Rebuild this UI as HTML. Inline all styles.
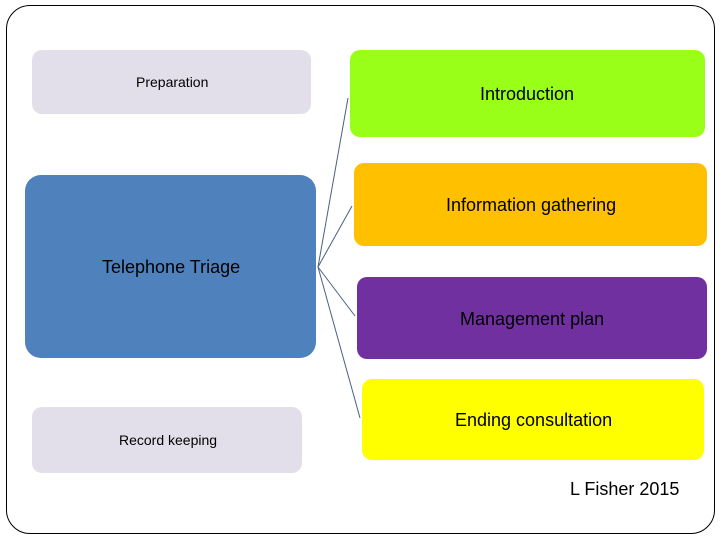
<!DOCTYPE html>
<html><head><style>
body{margin:0;width:720px;height:540px;background:#fff;position:relative;overflow:hidden;font-family:"Liberation Sans",sans-serif;}
.b{position:absolute;border-radius:10px;box-sizing:border-box;}
.t{position:absolute;white-space:nowrap;color:#000;}
</style></head><body>
<div style="position:absolute;left:6px;top:5px;width:709px;height:529px;border:1px solid #000;border-radius:24px;box-sizing:border-box;"></div>
<div class="b" style="left:32px;top:50px;width:279px;height:64px;background:#e2dfeb;"></div>
<div class="t" style="left:136px;top:74px;font-size:14px;">Preparation</div>
<div class="b" style="left:350px;top:50px;width:355px;height:87px;background:#99ff19;"></div>
<div class="t" style="left:480px;top:84px;font-size:18px;">Introduction</div>
<div class="b" style="left:354px;top:163px;width:353px;height:83px;background:#ffc000;"></div>
<div class="t" style="left:446px;top:195px;font-size:18px;">Information gathering</div>
<div class="b" style="left:357px;top:277px;width:350px;height:82px;background:#7030a0;"></div>
<div class="t" style="left:460px;top:309px;font-size:18px;">Management plan</div>
<div class="b" style="left:362px;top:379px;width:342px;height:81px;background:#ffff00;"></div>
<div class="t" style="left:455px;top:410px;font-size:18px;">Ending consultation</div>
<div class="b" style="left:25px;top:175px;width:291px;height:183px;background:#4f81bd;border-radius:16px;"></div>
<div class="t" style="left:102px;top:257px;font-size:18px;">Telephone Triage</div>
<div class="b" style="left:32px;top:407px;width:270px;height:66px;background:#e2dfeb;"></div>
<div class="t" style="left:119px;top:432px;font-size:14px;">Record keeping</div>
<div class="t" style="left:570px;top:479px;font-size:18px;">L Fisher 2015</div>
<svg width="720" height="540" style="position:absolute;left:0;top:0">
<g stroke="#4a6080" stroke-width="1" fill="none">
<line x1="318" y1="267" x2="348" y2="98"/>
<line x1="318" y1="267" x2="352" y2="206"/>
<line x1="318" y1="267" x2="355" y2="316"/>
<line x1="318" y1="267" x2="360" y2="418"/>
</g></svg>
</body></html>
